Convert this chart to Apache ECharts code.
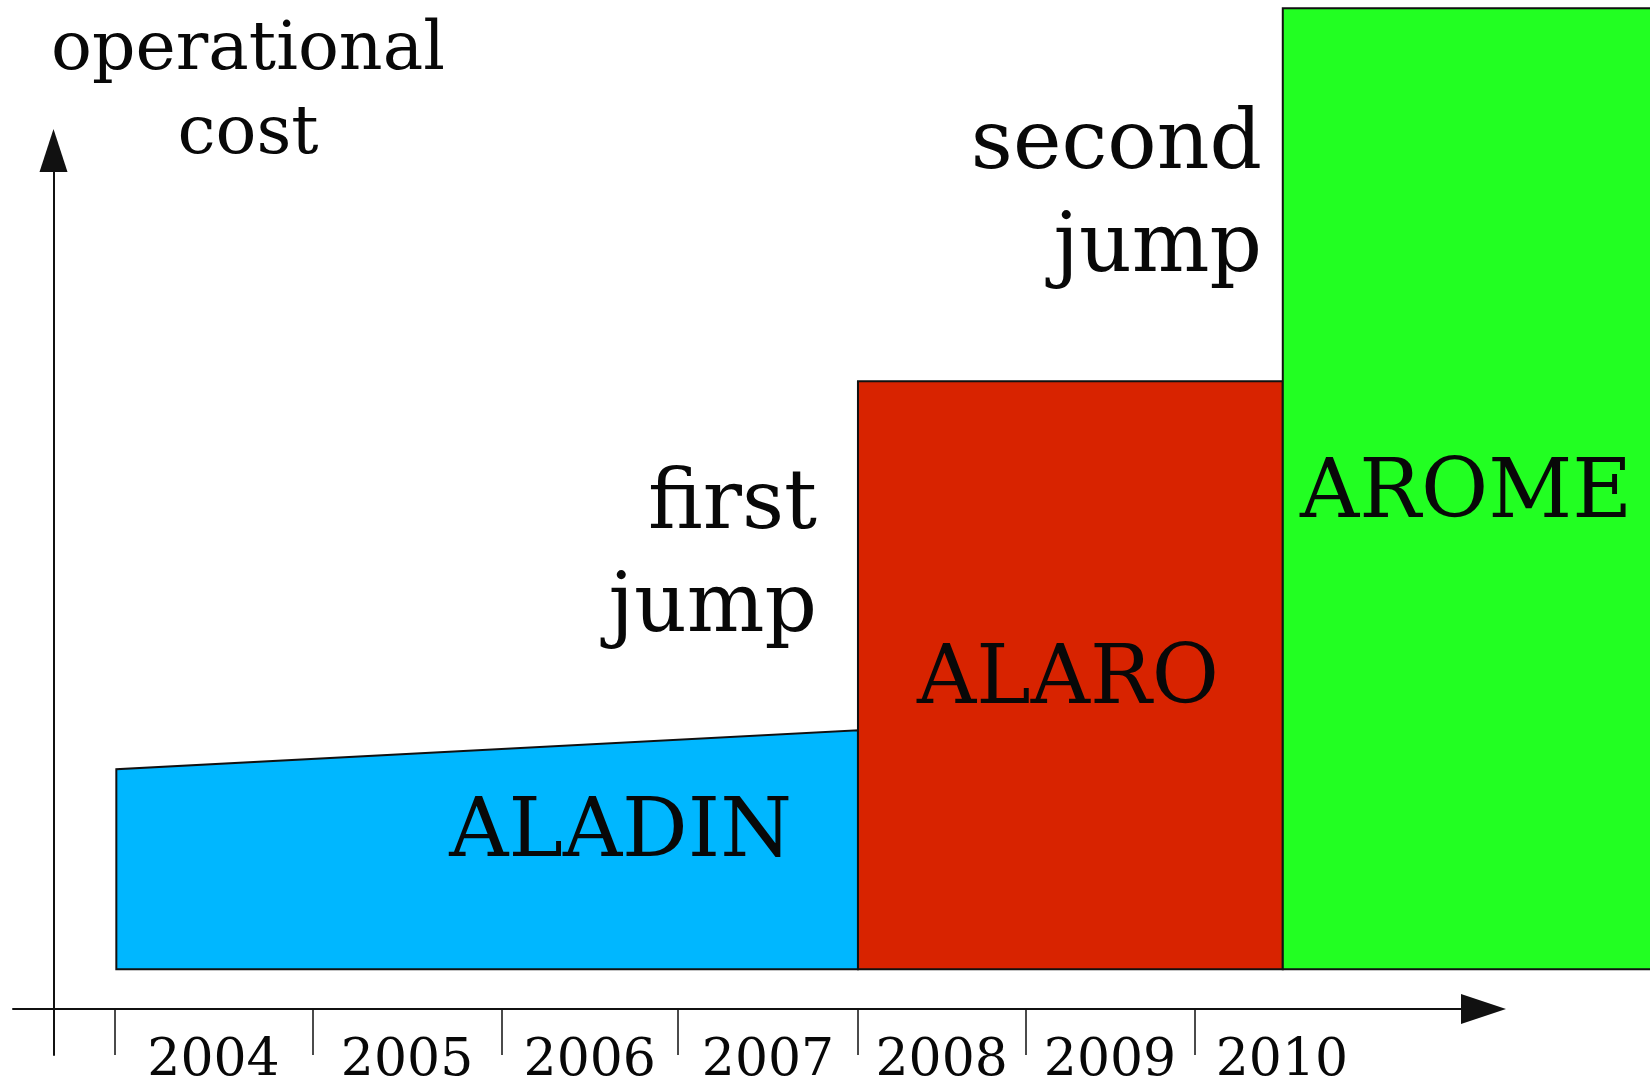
<!DOCTYPE html>
<html>
<head>
<meta charset="utf-8">
<title>operational cost</title>
<script src="https://cdn.jsdelivr.net/npm/echarts@6/dist/echarts.min.js"></script>
<style>
html, body { margin: 0; padding: 0; background: #fff; }
#chart { width: 1650px; height: 1083px; }
</style>
</head>
<body>
<div id="chart"></div>
<script>
// models, when they run and what they cost (arbitrary units, 0 = base line)
var models = ['ALADIN', 'ALARO', 'AROME'];
var modelStart = [2004.01, 2008.13, 2010.49];
var modelEnd = [2008.13, 2010.49, 2012.6];
var costStart = [20.0, 58.8, 96.1];
var costEnd = [23.9, 58.8, 96.1];

// year axis: the tick marks are not evenly spaced in the picture
var years = ['2004', '2005', '2006', '2007', '2008', '2009', '2010'];
var yearEdges = [2004.00, 2005.10, 2006.15, 2007.13, 2008.13, 2009.06, 2010.00, 2010.97];

var modelColors = ['#00b7ff', '#d82300', '#22ff22'];
var ink = '#111';
var textInk = '#080808';
var serif = '"DejaVu Serif", serif';

var yearTicks = yearEdges.slice(0, years.length);
var yearCenters = [];
for (var i = 0; i < years.length; i++) {
	yearCenters.push((yearEdges[i] + yearEdges[i + 1]) / 2);
}

var modelData = [];
for (var i = 0; i < models.length; i++) {
	modelData.push([modelStart[i], modelEnd[i], costStart[i], costEnd[i]]);
}

function yearLabel(value) {
	var best = 0;
	for (var i = 1; i < yearCenters.length; i++) {
		if (Math.abs(yearCenters[i] - value) < Math.abs(yearCenters[best] - value)) best = i;
	}
	return years[best];
}

function renderModel(params, api) {
	var x0 = api.value(0), x1 = api.value(1);
	var c0 = api.value(2), c1 = api.value(3);
	var pts = [
		api.coord([x0, 0]),
		api.coord([x0, c0]),
		api.coord([x1, c1]),
		api.coord([x1, 0])
	];
	return {
		type: 'polygon',
		shape: { points: pts },
		style: { fill: modelColors[params.dataIndex], stroke: ink, lineWidth: 2 }
	};
}

function note(text, x, y, size, align) {
	return {
		type: 'text',
		x: x,
		y: y,
		z: 100,
		style: {
			text: text,
			font: size + 'px ' + serif,
			fill: textInk,
			align: align, textAlign: align,
			verticalAlign: 'middle', textVerticalAlign: 'middle'
		}
	};
}

var chart = echarts.init(document.getElementById('chart'));
var option = {
	backgroundColor: '#fff',
	animation: false,
	grid: {
		left: 13,
		right: 166.5,
		top: 150.5,
		bottom: 28,
		containLabel: false,
		outerBoundsMode: 'none'
	},
	xAxis: {
		type: 'value',
		min: 2003.436,
		max: 2011.605,
		offset: -46,
		splitLine: { show: false },
		axisLine: {
			show: true,
			onZero: false,
			symbol: ['none', 'triangle'],
			symbolSize: [30, 45],
			lineStyle: { color: ink, width: 2 }
		},
		axisTick: {
			show: true,
			customValues: yearTicks,
			length: 46,
			lineStyle: { color: ink, width: 1.5 }
		},
		axisLabel: {
			show: true,
			customValues: yearCenters,
			margin: 26,
			color: textInk,
			fontFamily: serif,
			fontSize: 52,
			formatter: yearLabel
		}
	},
	yAxis: {
		type: 'value',
		min: -8.57,
		max: 81.88,
		offset: -40.5,
		splitLine: { show: false },
		axisTick: { show: false },
		axisLabel: { show: false },
		axisLine: {
			show: true,
			onZero: false,
			symbol: ['none', 'triangle'],
			symbolSize: [28, 43],
			lineStyle: { color: ink, width: 2 }
		}
	},
	series: [{
		type: 'custom',
		name: 'cost',
		clip: false,
		renderItem: renderModel,
		data: modelData
	}],
	graphic: [
		note('operational', 248, 51.5, 68, 'center'),
		note('cost', 248, 135.5, 68, 'center'),
		note('second', 1262, 147, 82, 'right'),
		note('jump', 1262, 250, 82, 'right'),
		note('first', 817, 507, 82, 'right'),
		note('jump', 817, 610, 82, 'right'),
		note(models[0], 792, 835, 82, 'right'),
		note(models[1], 1068, 682, 82, 'center'),
		note(models[2], 1466, 496, 82, 'center')
	]
};
chart.setOption(option);
</script>
</body>
</html>
